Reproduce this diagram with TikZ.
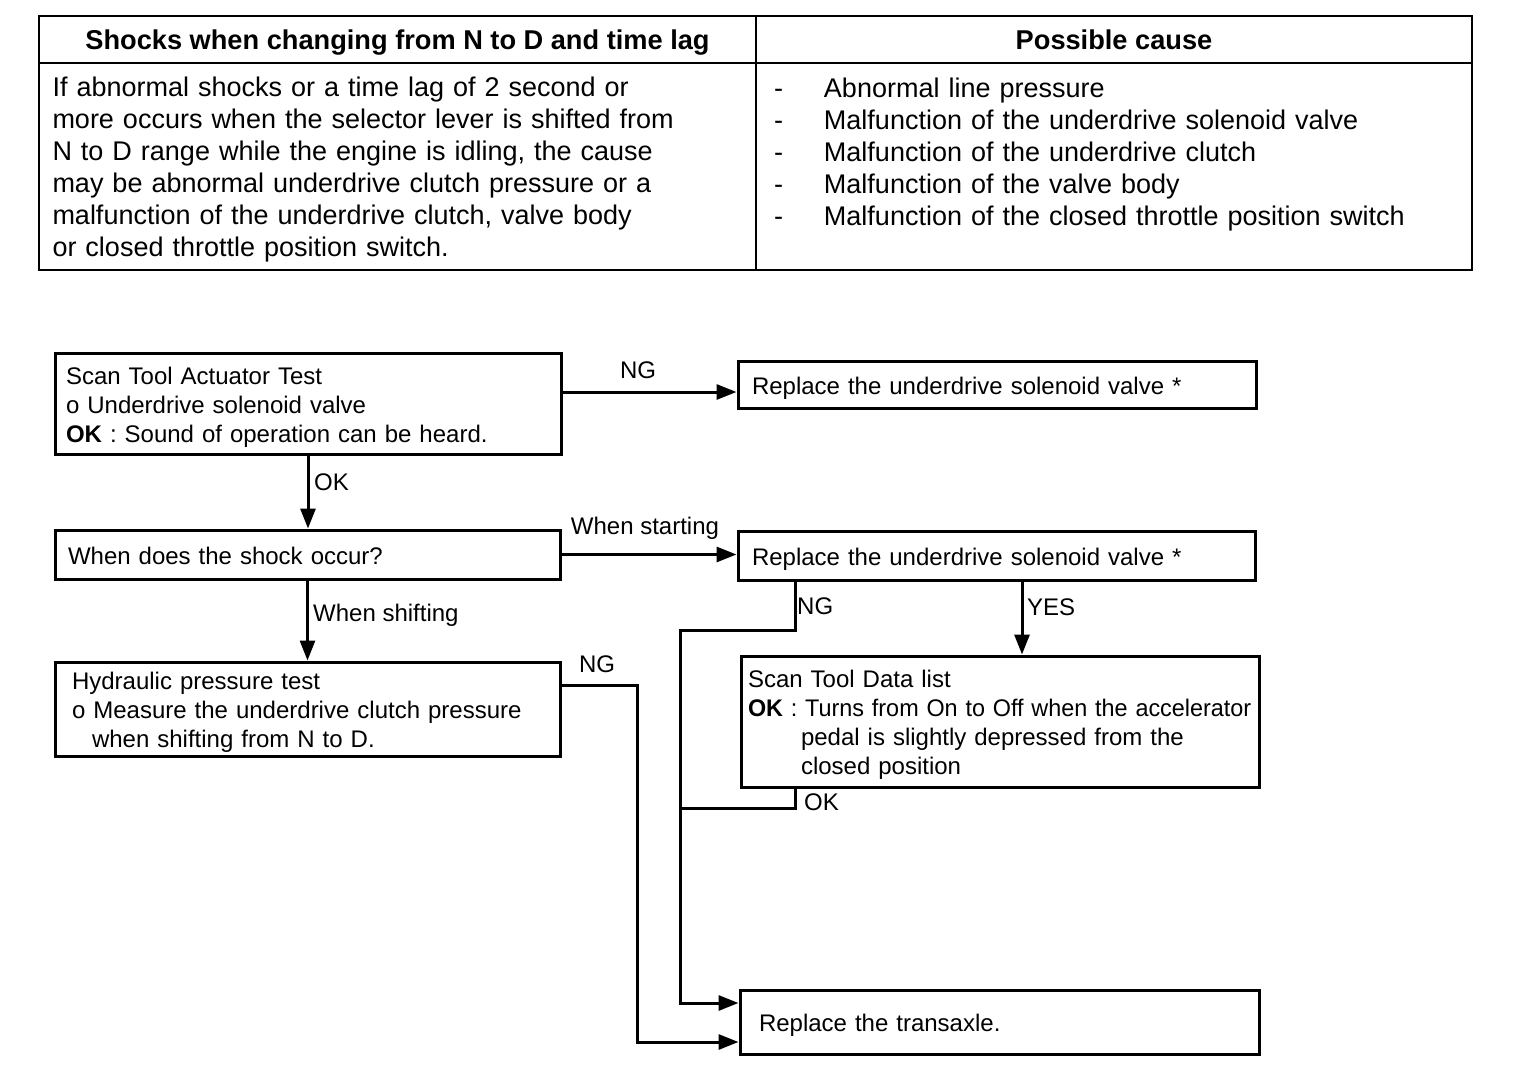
\documentclass[tikz,border=0pt]{standalone}
\usepackage{fontspec}
\setmainfont{Liberation Sans}
\usetikzlibrary{arrows.meta}
\newcommand\boxstrut{\rule[-4.8pt]{0pt}{28.8pt}}
\newcommand\hdrstrut{\rule[-5.6pt]{0pt}{31.6pt}}
\newcommand\bodystrut{\rule[-5pt]{0pt}{31pt}}
\newcommand\dashitem{\makebox[50pt][l]{-}}
\begin{document}
\begin{tikzpicture}[x=1pt,y=-1pt,
  box/.style={draw, line width=3pt, rectangle, inner xsep=0pt, inner ysep=0pt, align=left, font=\fontsize{24}{29}\selectfont},
  cell/.style={draw, line width=2.5pt, rectangle, inner sep=0pt},
  hdr/.style={cell, minimum height=47pt, font=\fontsize{27.2}{32}\selectfont\bfseries},
  body/.style={cell, minimum height=207pt, align=left, font=\fontsize{27}{32}\selectfont},
  conn/.style={line width=3pt},
  arr/.style={conn, -{Triangle[length=20pt,width=15pt]}},
  lbl/.style={inner sep=0pt, font=\fontsize{24}{29}\selectfont},
]
\useasboundingbox (0,0) rectangle (1536,1074);

% ---------- table ----------
\node[hdr, minimum width=717pt] (hL) at (397.5,39.5) {\hdrstrut Shocks when changing from N to D and time lag};
\node[hdr, minimum width=716pt] (hR) at (1114,39.5) {\hdrstrut Possible cause};
\node[body, minimum width=717pt, text width=690pt] (bL) at (397.5,166.5)
 {\bodystrut If abnormal shocks or a time lag of 2 second or\\
  more occurs when the selector lever is shifted from\\
  N to D range while the engine is idling, the cause\\
  may be abnormal underdrive clutch pressure or a\\
  malfunction of the underdrive clutch, valve body\\
  \bodystrut or closed throttle position switch.};
\node[body, minimum width=716pt, text width=680pt] (bR) at (1114,166.5)
 {\bodystrut\dashitem Abnormal line pressure\\
  \dashitem Malfunction of the underdrive solenoid valve\\
  \dashitem Malfunction of the underdrive clutch\\
  \dashitem Malfunction of the valve body\\
  \dashitem Malfunction of the closed throttle position switch\\
  \bodystrut};

% ---------- flowchart boxes ----------
\node[box, minimum width=506pt, minimum height=101pt, text width=484pt] (A) at (308,403.5)
 {\boxstrut Scan Tool Actuator Test\\ o Underdrive solenoid valve\\ \boxstrut\textbf{OK} : Sound of operation can be heard.};
\node[box, minimum width=518pt, minimum height=47pt, text width=490pt] (B) at (997,384.5)
 {\boxstrut Replace the underdrive solenoid valve *};
\node[box, minimum width=505pt, minimum height=49pt, text width=479pt] (C) at (307.5,554.5)
 {\boxstrut When does the shock occur?};
\node[box, minimum width=517pt, minimum height=49pt, text width=489pt] (D) at (996.5,555.5)
 {\boxstrut Replace the underdrive solenoid valve *};
\node[box, minimum width=505pt, minimum height=94pt, text width=471pt] (E) at (307.5,709)
 {\boxstrut Hydraulic pressure test\\ o Measure the underdrive clutch pressure\\ \boxstrut\hspace*{20pt}when shifting from N to D.};
\node[box, minimum width=518pt, minimum height=131pt, text width=504pt] (G) at (1000,721.5)
 {\boxstrut Scan Tool Data list\\
  \scalebox{0.975}[1]{\textbf{OK} : Turns from On to Off when the accelerator}\\
  \hspace*{53pt}pedal is slightly depressed from the\\
  \boxstrut\hspace*{53pt}closed position};
\node[box, minimum width=519pt, minimum height=64pt, text width=481pt] (F) at (999.5,1022)
 {\boxstrut Replace the transaxle.};

% ---------- helper coordinates ----------
\coordinate (a1) at (650,392);
\coordinate (d1) at (795,630);
\coordinate (d2) at (680,630);
\coordinate (g1) at (795,808);
\coordinate (y1) at (1022,600);
\coordinate (e1) at (637,685);
\coordinate (f1) at (700,1003);
\coordinate (f2) at (700,1042);

% ---------- connectors ----------
\draw[arr] (A.east |- a1) -- (B.west |- a1);
\draw[arr] (A.south) -- (A.south |- C.north);
\draw[arr] (C.east) -- (C.east -| D.west);
\draw[arr] (C.south) -- (E.north);
\draw[arr] (D.south -| y1) -- (G.north -| y1);
\draw[arr] (D.south -| d1) -- (d1) -- (d2) |- (F.west |- f1);
\draw[conn] (G.south -| g1) -- (g1) -- (g1 -| d2);
\draw[arr] (E.east |- e1) -- (e1) |- (F.west |- f2);

% ---------- labels ----------
\node[lbl] (lNG1) at (638,370) {NG};
\node[lbl, anchor=west] (lOK1) at (314,482) {OK};
\node[lbl] (lWS) at (645,528) {When starting};
\node[lbl, anchor=west] (lWSh) at (313,615) {When shifting};
\node[lbl] (lNG2) at (597,664) {NG};
\node[lbl, anchor=west] (lNG3) at (797,606) {NG};
\node[lbl, anchor=west] (lYES) at (1027,607) {YES};
\node[lbl, anchor=west] (lOK2) at (804,802) {OK};
\end{tikzpicture}
\end{document}
